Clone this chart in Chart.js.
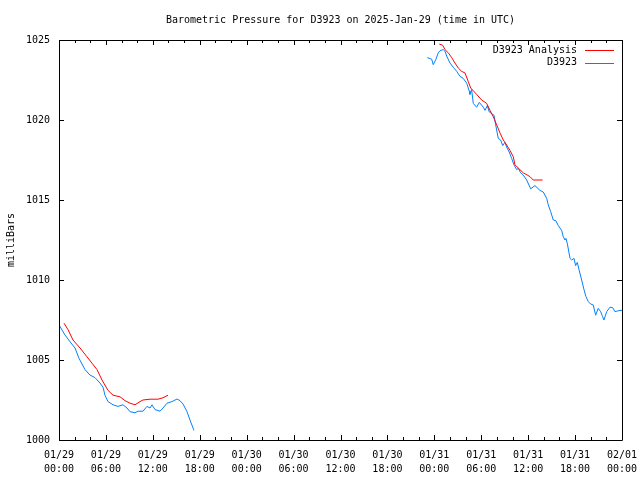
<!DOCTYPE html>
<html lang="en">
  <head>
    <meta charset="UTF-8" />
    <title>Barometric Pressure for D3923</title>
    <script src="https://cdn.jsdelivr.net/npm/chart.js"></script>
    <style>
      html,
      body {
        margin: 0;
        padding: 0;
        background: #fff;
      }
      .chart-box {
        width: 640px;
        height: 480px;
      }
    </style>
  </head>
  <body>
    <div class="chart-box">
      <canvas id="pressureChart" width="640" height="480"></canvas>
    </div>

    <script>
      // hours after 2025-01-29 00:00 UTC, null marks a gap in the record
      const analysisHours = [
        0.64, 1.15, 1.79, 2.69, 3.58, 4.22, 4.86, 5.5, 6.27, 6.91, 7.8, 8.44,
        9.08, 9.72, 10.36, 10.74, 11.64, 12.66, 13.3, 13.94, 30, 48.63, 49.07,
        49.36, 49.78, 50.22, 50.64, 51.06, 51.5, 51.92, 52.34, 52.65, 52.98,
        53.41, 54.05, 54.69, 55.12, 55.54, 55.97, 56.39, 56.82, 57.25, 57.67,
        58.1, 58.31, 58.73, 59.37, 59.88, 60.23, 60.65, 61.85,
      ];
      const analysisPressure = [
        1007.3, 1006.9, 1006.25, 1005.75, 1005.2, 1004.8, 1004.4, 1003.75,
        1003.1, 1002.8, 1002.7, 1002.46, 1002.3, 1002.2, 1002.4, 1002.5,
        1002.55, 1002.55, 1002.64, 1002.8, null, 1024.75, 1024.67, 1024.4,
        1024.2, 1023.9, 1023.56, 1023.25, 1023.04, 1022.94, 1022.4, 1022.0,
        1021.83, 1021.6, 1021.25, 1021.04, 1020.6, 1020.2, 1019.7, 1019.2,
        1018.75, 1018.44, 1018.1, 1017.7, 1017.2, 1017.0, 1016.7, 1016.56,
        1016.46, 1016.25, 1016.25,
      ];

      const stationHours = [
        0, 0.77, 1.41, 2.05, 2.56, 3.32, 3.96, 4.6, 5.24, 5.63, 5.88, 6.27,
        6.91, 7.54, 8.18, 8.7, 9.08, 9.72, 10.1, 10.74, 11.25, 11.64, 11.89,
        12.28, 12.92, 13.3, 13.81, 14.45, 15.09, 15.47, 15.86, 16.37, 16.75,
        17.26, 30, 47.1, 47.66, 47.86, 48.21, 48.5, 48.72, 49.14, 49.36, 49.58,
        50.0, 50.42, 50.86, 51.28, 51.7, 52.14, 52.47, 52.56, 52.77, 52.98,
        53.41, 53.75, 54.26, 54.48, 54.77, 55.03, 55.33, 55.63, 55.88, 56.18,
        56.48, 56.74, 57.03, 57.25, 57.58, 57.89, 58.18, 58.53, 58.73, 59.04,
        59.37, 59.81, 60.32, 60.87, 61.51, 61.93, 62.37, 62.57, 62.88, 63.21,
        63.55, 63.85, 64.28, 64.49, 64.71, 64.83, 65.0, 65.35, 65.56, 65.86,
        66.07, 66.28, 66.53, 66.84, 67.14, 67.39, 67.69, 67.99, 68.32, 68.63,
        68.96, 69.27, 69.53, 69.69, 70.04, 70.46, 70.81, 71.1, 71.39, 71.74, 72,
      ];
      const stationPressure = [
        1007.2, 1006.56, 1006.14, 1005.75, 1005.1, 1004.4, 1004.06, 1003.9,
        1003.56, 1003.3, 1002.8, 1002.4, 1002.2, 1002.1, 1002.2, 1002.0,
        1001.77, 1001.7, 1001.8, 1001.8, 1002.1, 1002.0, 1002.2, 1001.9,
        1001.8, 1002.0, 1002.3, 1002.4, 1002.56, 1002.46, 1002.25, 1001.77,
        1001.25, 1000.6, null, 1023.9, 1023.8, 1023.46, 1023.8, 1024.2,
        1024.33, 1024.4, 1024.3, 1024.0, 1023.56, 1023.3, 1023.04, 1022.73,
        1022.6, 1022.3, 1021.8, 1021.6, 1021.9, 1021.04, 1020.8, 1021.1,
        1020.8, 1020.6, 1020.9, 1020.5, 1020.4, 1020.3, 1019.6, 1018.85,
        1018.75, 1018.4, 1018.6, 1018.3, 1018.0, 1017.6, 1017.2, 1016.9,
        1016.98, 1016.7, 1016.56, 1016.25, 1015.7, 1015.9, 1015.6, 1015.5,
        1015.1, 1014.7, 1014.27, 1013.75, 1013.7, 1013.4, 1013.1, 1012.7,
        1012.5, 1012.6, 1012.3, 1011.35, 1011.25, 1011.35, 1010.9, 1011.1,
        1010.6, 1010.0, 1009.4, 1008.96, 1008.65, 1008.5, 1008.44, 1007.8,
        1008.23, 1008.02, 1007.7, 1007.5, 1008.02, 1008.3, 1008.27, 1008.02,
        1008.06, 1008.1, 1008.1,
      ];

      const xTickLabels = [
        ["01/29", "00:00"],
        ["01/29", "06:00"],
        ["01/29", "12:00"],
        ["01/29", "18:00"],
        ["01/30", "00:00"],
        ["01/30", "06:00"],
        ["01/30", "12:00"],
        ["01/30", "18:00"],
        ["01/31", "00:00"],
        ["01/31", "06:00"],
        ["01/31", "12:00"],
        ["01/31", "18:00"],
        ["02/01", "00:00"],
      ];
      const seriesNames = ["D3923 Analysis", "D3923"];
      const seriesColors = ["#ff0000", "#0080ff"];
      const chartTitle =
        "Barometric Pressure for D3923 on 2025-Jan-29 (time in UTC)";

      const toPoints = (xs, ys) => xs.map((x, i) => ({ x: x, y: ys[i] }));

      Chart.defaults.font.family = "'DejaVu Sans Mono', monospace";
      Chart.defaults.font.size = 10;
      Chart.defaults.color = "#000";

      // gnuplot style frame: box, inward ticks on all four sides, title, legend
      const gnuplotFrame = {
        id: "gnuplotFrame",
        afterDraw(chart) {
          const ctx = chart.ctx;
          const area = chart.chartArea;
          const xs = chart.scales.x;
          const ys = chart.scales.y;
          ctx.save();
          ctx.strokeStyle = "#000";
          ctx.lineWidth = 1;
          ctx.beginPath();
          ctx.rect(
            Math.round(area.left) + 0.5,
            Math.round(area.top) + 0.5,
            Math.round(area.right - area.left),
            Math.round(area.bottom - area.top)
          );
          xs.ticks.forEach((t) => {
            const px = Math.round(xs.getPixelForValue(t.value)) + 0.5;
            const len = t.value % 6 === 0 ? 5 : 3;
            ctx.moveTo(px, area.bottom);
            ctx.lineTo(px, area.bottom - len);
            ctx.moveTo(px, area.top);
            ctx.lineTo(px, area.top + len);
          });
          ys.ticks.forEach((t) => {
            const py = Math.round(ys.getPixelForValue(t.value)) + 0.5;
            ctx.moveTo(area.left, py);
            ctx.lineTo(area.left + 5, py);
            ctx.moveTo(area.right, py);
            ctx.lineTo(area.right - 5, py);
          });
          ctx.stroke();

          ctx.fillStyle = "#000";
          ctx.font = "10px 'DejaVu Sans Mono', monospace";
          ctx.textAlign = "center";
          ctx.textBaseline = "middle";
          ctx.fillText(chartTitle, (area.left + area.right) / 2, 20);

          ctx.textAlign = "right";
          chart.data.datasets.forEach((ds, i) => {
            const y = 50 + i * 12.5;
            ctx.fillStyle = "#000";
            ctx.fillText(ds.label, 577, y);
            ctx.strokeStyle = ds.borderColor;
            ctx.beginPath();
            ctx.moveTo(585, Math.round(y) + 0.5);
            ctx.lineTo(614, Math.round(y) + 0.5);
            ctx.stroke();
          });
          ctx.restore();
        },
      };

      new Chart(document.getElementById("pressureChart"), {
        type: "line",
        data: {
          datasets: [
            {
              label: seriesNames[0],
              data: toPoints(analysisHours, analysisPressure),
              borderColor: seriesColors[0],
              borderWidth: 1,
              pointRadius: 0,
              tension: 0,
              spanGaps: false,
            },
            {
              label: seriesNames[1],
              data: toPoints(stationHours, stationPressure),
              borderColor: seriesColors[1],
              borderWidth: 1,
              pointRadius: 0,
              tension: 0,
              spanGaps: false,
            },
          ],
        },
        options: {
          responsive: false,
          animation: false,
          events: [],
          layout: {
            padding: { top: 40, right: 18, bottom: 0, left: 0 },
          },
          plugins: {
            legend: { display: false },
            title: { display: false },
            tooltip: { enabled: false },
          },
          scales: {
            x: {
              type: "linear",
              min: 0,
              max: 72,
              grid: { display: false, drawTicks: false },
              border: { display: false },
              ticks: {
                stepSize: 2,
                autoSkip: false,
                maxRotation: 0,
                padding: 9,
                font: { lineHeight: 1.35 },
                callback: (v) => (v % 6 === 0 ? xTickLabels[v / 6] : ""),
              },
              afterFit: (scale) => {
                scale.height = 40;
                scale.paddingLeft = 0;
                scale.paddingRight = 0;
              },
            },
            y: {
              min: 1000,
              max: 1025,
              grid: { display: false, drawTicks: false },
              border: { display: false },
              ticks: {
                stepSize: 5,
                padding: 9,
                callback: (v) => String(v),
              },
              title: {
                display: true,
                text: "milliBars",
                padding: { top: 5, bottom: 0 },
              },
              afterFit: (scale) => {
                scale.width = 59;
                scale.paddingTop = 0;
                scale.paddingBottom = 0;
              },
            },
          },
        },
        plugins: [gnuplotFrame],
      });
    </script>
  </body>
</html>
